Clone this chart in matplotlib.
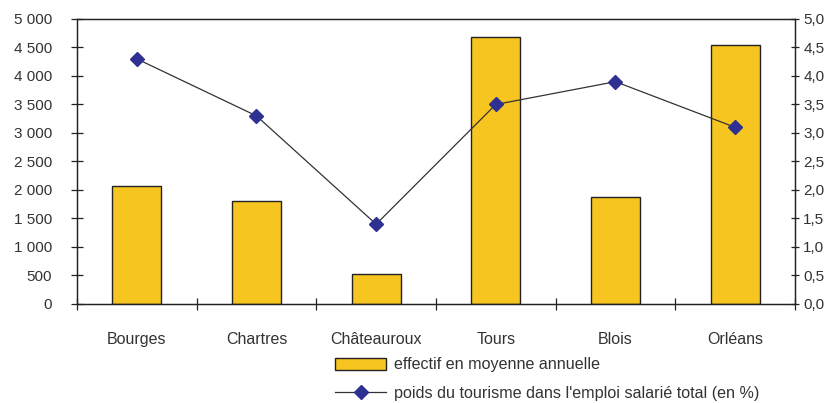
import matplotlib.pyplot as plt
import numpy as np
from matplotlib.ticker import FuncFormatter, FixedLocator

plt.rcParams['font.family'] = ['Liberation Sans', 'DejaVu Sans']

villes = ['Bourges', 'Chartres', 'Châteauroux', 'Tours', 'Blois', 'Orléans']
effectif = [2075, 1800, 530, 4685, 1870, 4550]
poids = [4.3, 3.3, 1.4, 3.5, 3.9, 3.1]

txt = '#333333'
x = np.arange(len(villes))

fig = plt.figure(figsize=(8.35, 4.03), dpi=100)
ax = fig.add_axes([0.0922, 0.2457, 0.8598, 0.7072])
ax2 = ax.twinx()

barres = ax.bar(x, effectif, width=0.41, color='#F7C520', edgecolor='#222222', linewidth=1, zorder=2)
ligne, = ax2.plot(x, poids, color='#333333', linewidth=0.9, marker='D', markersize=7.5,
                  markerfacecolor='#2E3192', markeredgecolor='#2E3192', zorder=3)

ax.set_xlim(-0.5, 5.5)
ax.set_ylim(0, 5000)
ax2.set_ylim(0, 5)
ax.set_yticks(np.arange(0, 5001, 500))
ax2.set_yticks(np.arange(0, 5.01, 0.5))
ax.yaxis.set_major_formatter(FuncFormatter(lambda v, p: f'{int(v):,}'.replace(',', ' ')))
ax2.yaxis.set_major_formatter(FuncFormatter(lambda v, p: f'{v:.1f}'.replace('.', ',')))

ax.xaxis.set_major_locator(FixedLocator(np.arange(-0.5, 6, 1)))
ax.xaxis.set_major_formatter(FuncFormatter(lambda v, p: ''))
ax.xaxis.set_minor_locator(FixedLocator(x))
ax.set_xticklabels(villes, minor=True)
ax.tick_params(axis='x', which='major', direction='inout', length=9, width=0.9, color='#222222')
ax.tick_params(axis='x', which='minor', length=0, pad=20, labelsize=11.5, labelcolor=txt)
ax.tick_params(axis='y', direction='inout', length=8, width=0.9, pad=14, labelsize=11,
               labelcolor=txt, color='#222222')
ax2.tick_params(axis='y', direction='inout', length=6, width=0.9, pad=3, labelsize=11,
                labelcolor=txt, color='#222222')

for a in (ax, ax2):
    for s in a.spines.values():
        s.set_color('#222222')
        s.set_linewidth(0.9)

fig.legend([barres, ligne],
           ['effectif en moyenne annuelle', "poids du tourisme dans l'emploi salarié total (en %)"],
           loc='upper left', bbox_to_anchor=(0.401, 0.113), frameon=False, fontsize=11.6,
           handlelength=3.2, handleheight=0.8, handletextpad=0.5, labelspacing=0.85,
           borderpad=0, borderaxespad=0, labelcolor=txt)

fig.savefig('out.png', dpi=100)
